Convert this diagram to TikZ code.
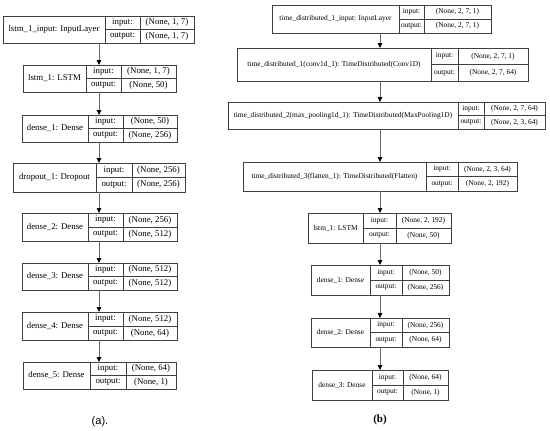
\documentclass[tikz,border=0pt]{standalone}
\usepackage{fontspec}
\setmainfont{Liberation Serif}
\newfontfamily\labsans{Liberation Sans}
\usetikzlibrary{arrows.meta}
\def\splitio#1|#2\relax{\def\lbIn{#1}\def\lbOut{#2}}
\def\lbSize{8.8}
% #1 id, #2 x1, #3 x2, #4 y1, #5 y2, #6 d1, #7 d2, #8 label, #9 in|out
\newcommand\layerbox[9]{%
  \splitio#9\relax
  \pgfmathsetmacro\lbW{#3-#2}%
  \pgfmathsetmacro\lbH{#5-#4}%
  \pgfmathsetmacro\lbM{(#4+#5)/2}%
  \node[lbox, minimum width=\lbW pt, minimum height=\lbH pt, anchor=north west] (#1) at (#2,#4) {};
  \draw[lline] (#6,#4) -- (#6,#5) (#7,#4) -- (#7,#5) (#6,\lbM) -- (#3,\lbM);
  \node[txt] (#1-name) at ({(#2+#6)/2},\lbM) {#8};
  \node[txt] (#1-il) at ({(#6+#7)/2},{(#4+\lbM)/2}) {input:};
  \node[txt] (#1-ol) at ({(#6+#7)/2},{(#5+\lbM)/2}) {output:};
  \node[txt] (#1-iv) at ({(#7+#3)/2},{(#4+\lbM)/2}) {\lbIn};
  \node[txt] (#1-ov) at ({(#7+#3)/2},{(#5+\lbM)/2}) {\lbOut};
}
\tikzset{
  lbox/.style={draw=black!75, line width=0.7pt, inner sep=0pt, outer sep=0pt},
  lline/.style={draw=black!75, line width=0.7pt},
  txt/.style={font=\fontsize{\lbSize}{\lbSize}\selectfont, inner sep=0pt, text=black},
  arr/.style={draw=black!60, line width=0.9pt, -{Triangle[length=5pt,width=4.5pt,color=black]}},
}
\begin{document}
\begin{tikzpicture}[x=1pt,y=-1pt]
\useasboundingbox (0,0) rectangle (550,431);
\fill[white] (0,0) rectangle (550,431);
\coordinate (ax) at (99,0);
\coordinate (bx) at (380,0);
% (a)
\def\lbSize{8.8}
\layerbox{a1}{3}{194}{16}{43}{105}{140}{lstm\_1\_input: InputLayer}{(None, 1, 7)|(None, 1, 7)}
\layerbox{a2}{23}{176}{65}{92}{86}{121}{lstm\_1: LSTM}{(None, 1, 7)|(None, 50)}
\layerbox{a3}{22}{177}{115}{142}{88}{123}{dense\_1: Dense}{(None, 50)|(None, 256)}
\layerbox{a4}{13}{185}{163}{192}{96}{132}{dropout\_1: Dropout}{(None, 256)|(None, 256)}
\layerbox{a5}{22}{177}{213}{241}{88}{123}{dense\_2: Dense}{(None, 256)|(None, 512)}
\layerbox{a6}{22}{177}{263}{290}{88}{123}{dense\_3: Dense}{(None, 512)|(None, 512)}
\layerbox{a7}{22}{177}{312}{340}{88}{123}{dense\_4: Dense}{(None, 512)|(None, 64)}
\layerbox{a8}{23}{176}{362}{389}{90}{126}{dense\_5: Dense}{(None, 64)|(None, 1)}
\foreach \p/\q in {a1/a2,a2/a3,a3/a4,a4/a5,a5/a6,a6/a7,a7/a8}
  \draw[arr] (\p.south -| ax) -- (\q.north -| ax);
\node[font=\labsans\fontsize{11}{12}\selectfont] (la) at (100,422) {(a).};
% (b)
\def\lbSize{7.4}
\layerbox{b1}{272}{491}{5}{33}{399}{424}{time\_distributed\_1\_input: InputLayer}{(None, 2, 7, 1)|(None, 2, 7, 1)}
\layerbox{b2}{237}{528}{48}{81}{431}{458}{time\_distributed\_1(conv1d\_1): TimeDistributed(Conv1D)}{(None, 2, 7, 1)|(None, 2, 7, 64)}
\layerbox{b3}{228}{545}{102}{129}{458}{484}{time\_distributed\_2(max\_pooling1d\_1): TimeDistributed(MaxPooling1D)}{(None, 2, 7, 64)|(None, 2, 3, 64)}
\layerbox{b4}{243}{517}{162}{191}{426}{458}{time\_distributed\_3(flatten\_1): TimeDistributed(Flatten)}{(None, 2, 3, 64)|(None, 2, 192)}
\layerbox{b5}{308}{451}{213}{243}{363}{396}{lstm\_1: LSTM}{(None, 2, 192)|(None, 50)}
\layerbox{b6}{311}{449}{265}{295}{370}{402}{dense\_1: Dense}{(None, 50)|(None, 256)}
\layerbox{b7}{311}{449}{318}{347}{370}{402}{dense\_2: Dense}{(None, 256)|(None, 64)}
\layerbox{b8}{312}{448}{370}{400}{372}{403}{dense\_3: Dense}{(None, 64)|(None, 1)}
\foreach \p/\q in {b1/b2,b2/b3,b3/b4,b4/b5,b5/b6,b6/b7,b7/b8}
  \draw[arr] (\p.south -| bx) -- (\q.north -| bx);
\node[font=\bfseries\fontsize{11}{12}\selectfont] (lb) at (380,420) {(b)};
\end{tikzpicture}
\end{document}
